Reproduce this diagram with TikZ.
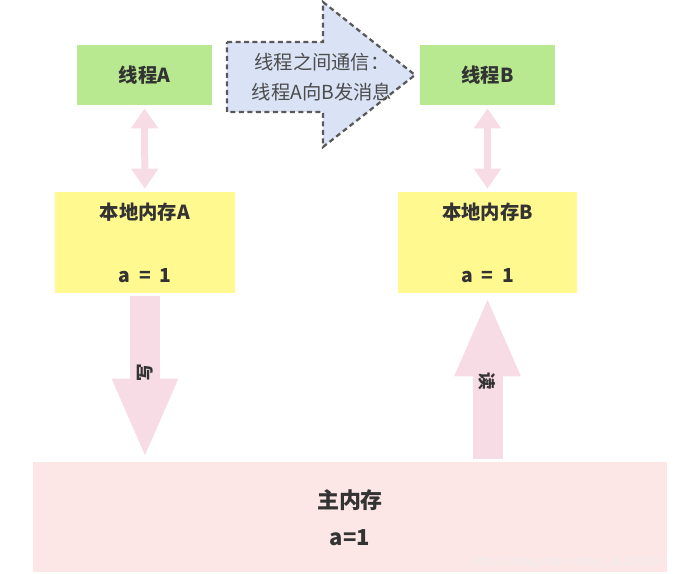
\documentclass[tikz,border=0pt]{standalone}
\usepackage{fontspec}
\setmainfont{Noto Sans CJK SC}
\usepackage{xcolor}
\usepackage{tikz}
\usetikzlibrary{arrows.meta,positioning,calc}
\definecolor{thgreen}{HTML}{B8E990}
\definecolor{memyellow}{HTML}{FFF98F}
\definecolor{mainpink}{HTML}{FDE6E6}
\definecolor{arrpink}{HTML}{F8DCE5}
\definecolor{msgblue}{HTML}{DAE3F5}
\definecolor{txtgray}{HTML}{333333}
\tikzset{
  thbox/.style={fill=thgreen, minimum width=2.7cm, minimum height=1.2cm,
                font=\bfseries\fontsize{11}{13}\selectfont, text=txtgray},
  membox/.style={fill=memyellow, minimum width=3.6cm, minimum height=2.02cm},
  boxtxt/.style={font=\bfseries\fontsize{11}{13}\selectfont, text=txtgray},
  dblarr/.style={draw=arrpink, line width=0.14cm,
                 {Triangle[width=0.52cm,length=0.4cm]}-{Triangle[width=0.52cm,length=0.4cm]},
                 shorten <=0.06cm, shorten >=0.06cm},
  bigarr/.style={draw=arrpink, line width=0.6cm, -{Triangle[width=1.2cm,length=1.6cm]},
                 shorten <=0.06cm, shorten >=0.06cm},
  rwtxt/.style={font=\bfseries\fontsize{10}{11}\selectfont, text=txtgray},
}

\begin{document}
\begin{tikzpicture}[x=0.02cm, y=-0.02cm]
    \useasboundingbox (0,0) rectangle (693,574);
    % threads
    \node[thbox] (thA) at (144.5,75) {线程A};
    \node[thbox] (thB) at (487.5,75) {线程B};
    % message arrow
    \draw[fill=msgblue, draw=black!65, line width=0.045cm, dash pattern=on 0.1cm off 0.07cm]
      (227,42) -- (323,42) -- (323,2) -- (415,75) -- (323,147) -- (323,112) -- (227,112) -- cycle;
    \node[align=center, font=\fontsize{11}{17}\selectfont, text=black!70] (msg) at (322,77)
      {线程之间通信：\\线程A向B发消息};
    % local memories
    \node[membox] (memA) at (145,242.5) {};
    \node[membox] (memB) at (487.5,242.5) {};
    \node[boxtxt] (memAt) at ($(memA.north)+(0,21)$) {本地内存A};
    \node[boxtxt] (memAv) at ($(memA.south)+(0,-18)$) {a\hspace{0.45em}=\hspace{0.45em}1};
    \node[boxtxt] (memBt) at ($(memB.north)+(0,21)$) {本地内存B};
    \node[boxtxt] (memBv) at ($(memB.south)+(0,-18)$) {a\hspace{0.45em}=\hspace{0.45em}1};
    % main memory
    \node[fill=mainpink, minimum width=12.68cm, minimum height=2.2cm] (main) at (350,517) {};
    \node[font=\bfseries\fontsize{12.5}{14}\selectfont, text=txtgray] (mainT) at (350,500) {主内存};
    \node[font=\bfseries\fontsize{12.5}{14}\selectfont, text=txtgray] (mainV) at (350,538) {a=1};
    \node[font=\fontsize{6.5}{7}\selectfont, text=black!7, anchor=east] (wm) at (667,562)
      {https://blog.csdn.net/qq\_41125219};
    % connectors
    \draw[dblarr] (thA) -- (memA);
    \draw[dblarr] (thB) -- (memB);
    \draw[bigarr] (memA.south) -- node[pos=0.47, rwtxt, rotate=90] {写} (memA.south |- main.north);
    \draw[bigarr] (memB.south |- main.north) -- node[pos=0.48, rwtxt, rotate=-90] {读} (memB.south);
  \end{tikzpicture}
\end{document}
